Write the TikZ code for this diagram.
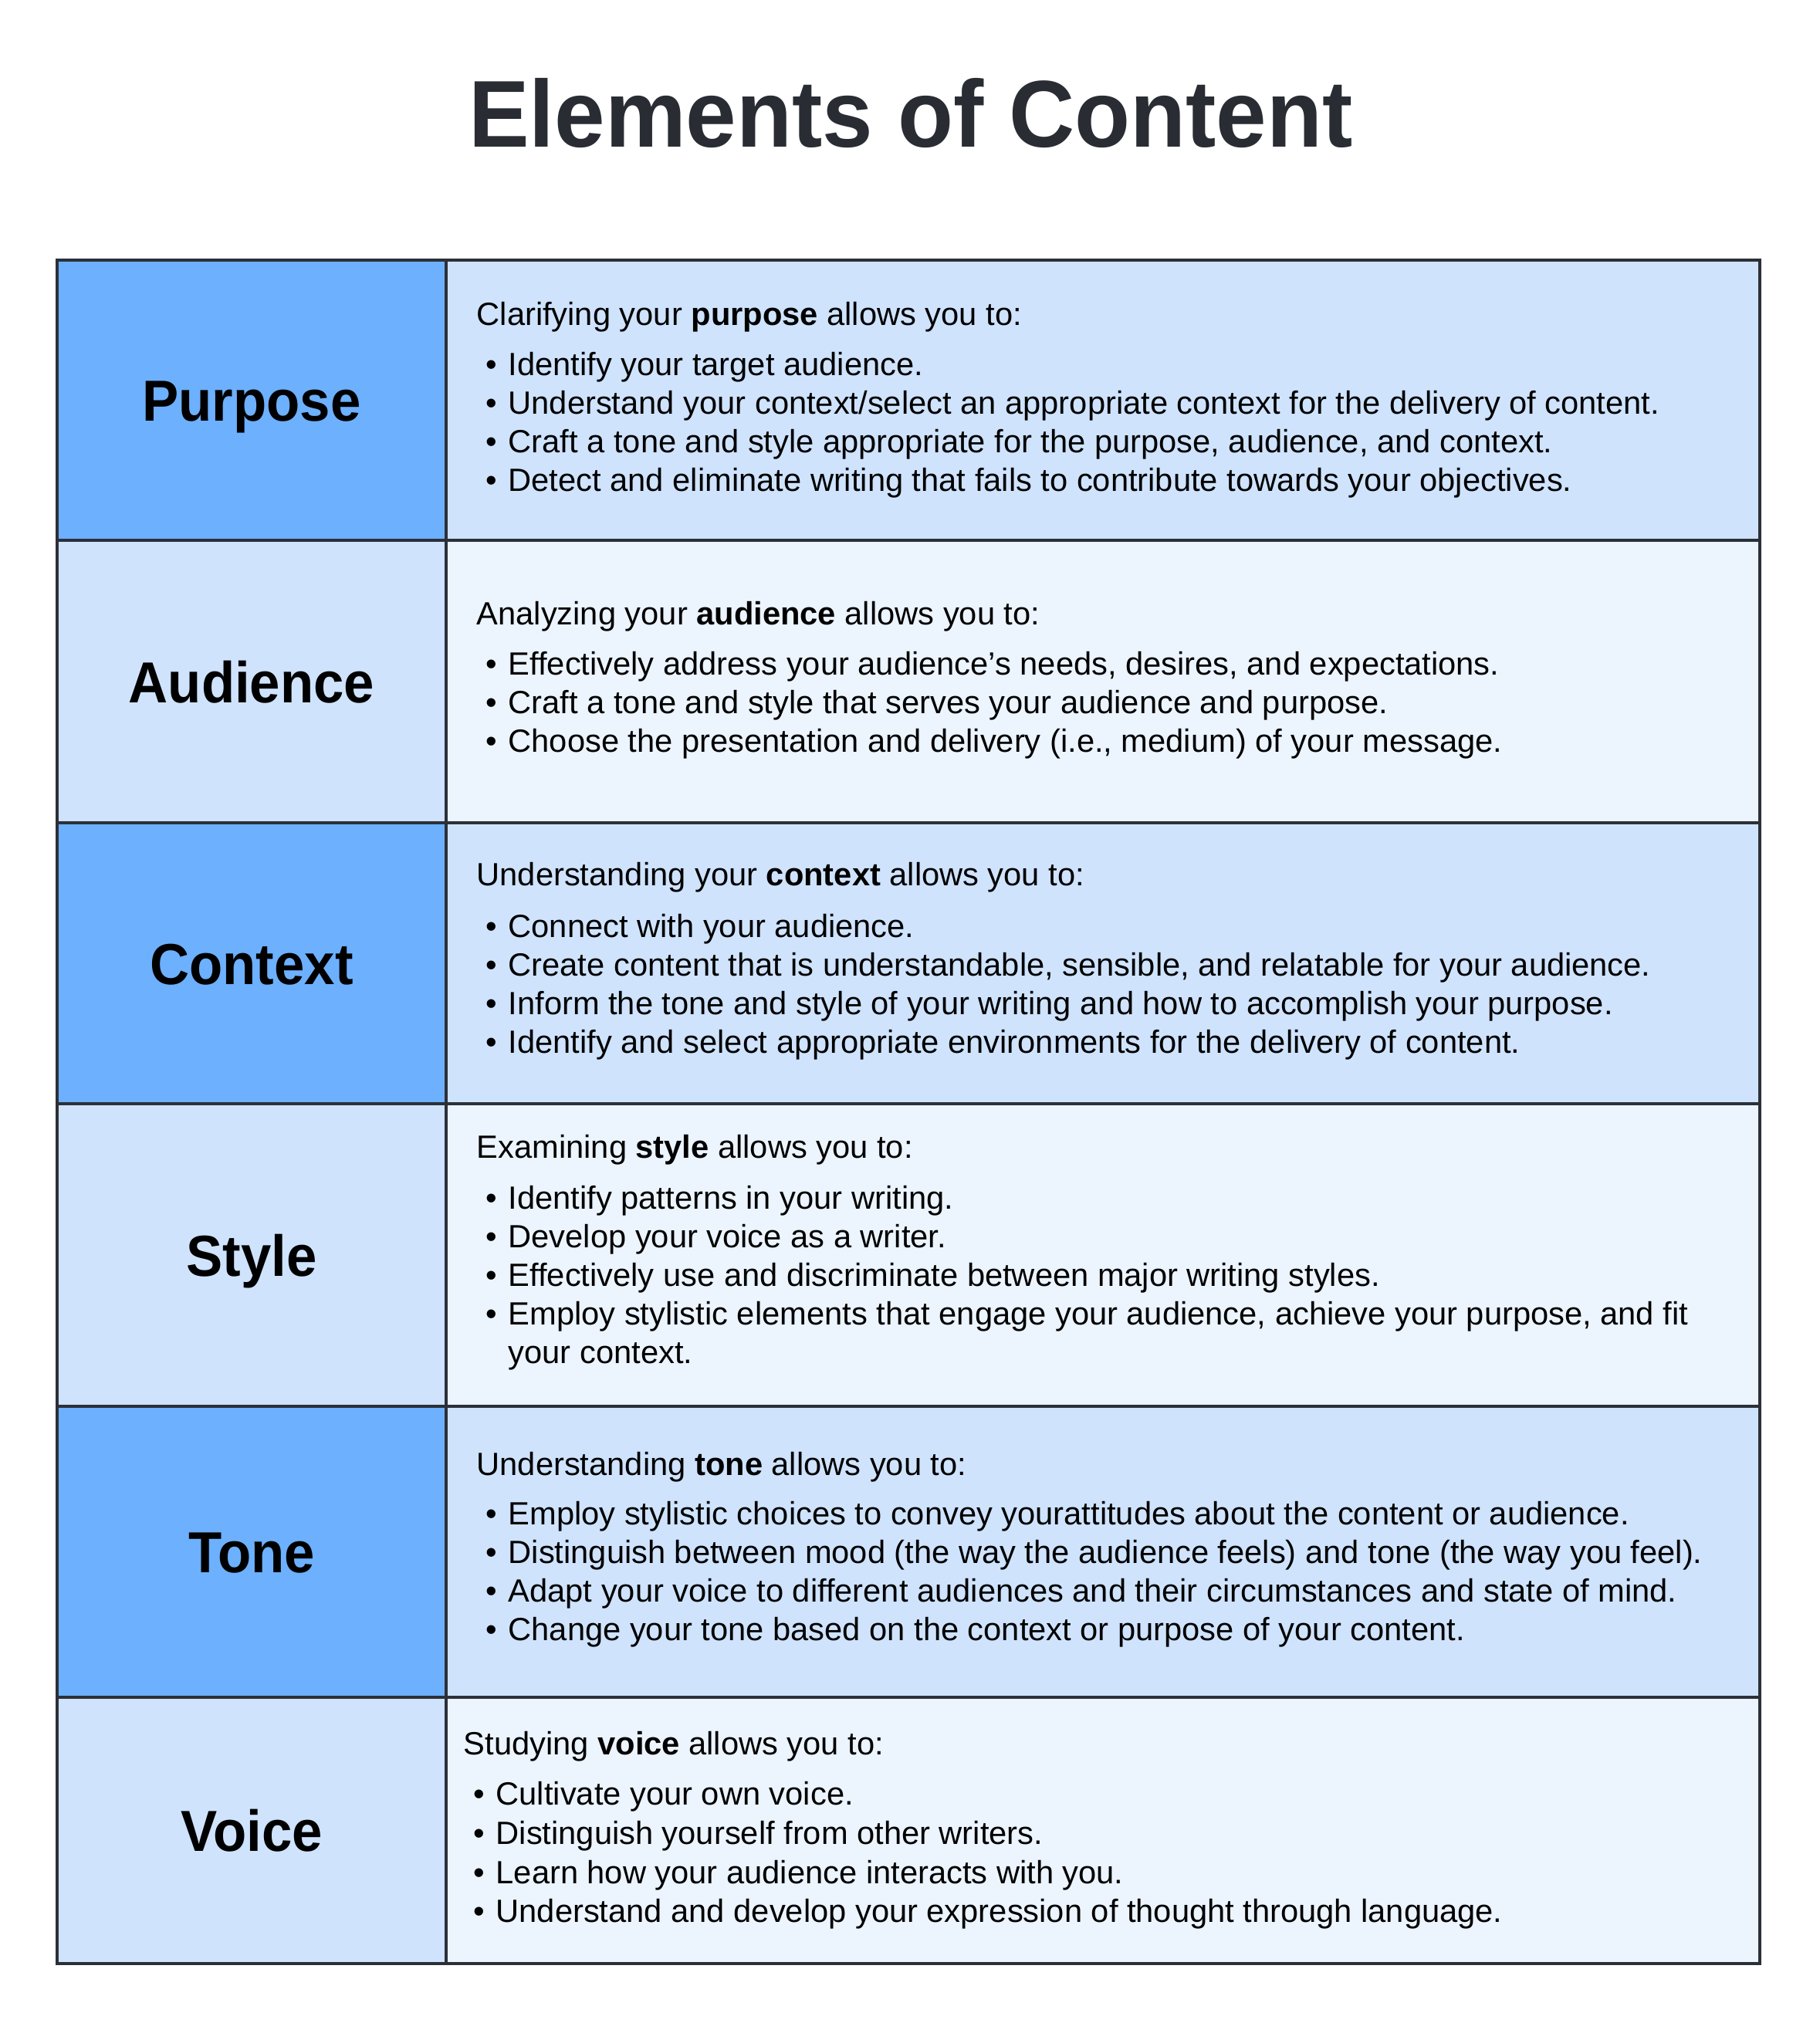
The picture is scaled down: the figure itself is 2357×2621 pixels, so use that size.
\documentclass[tikz,border=0pt]{standalone}
\usepackage{fontspec}
\setmainfont{Liberation Sans}
\newfontfamily\lblfont{Liberation Sans}[FakeStretch=0.943]
\newfontfamily\ttlfont{Liberation Sans}[FakeStretch=0.958]
\definecolor{cdark}{HTML}{6DB0FE}
\definecolor{cmid}{HTML}{CFE3FD}
\definecolor{clight}{HTML}{ECF4FE}
\definecolor{cline}{HTML}{2B3038}
\definecolor{ctitle}{HTML}{292D33}
\newcommand\bitem[4]{%
  \node[body] (#1b) at (#2-29,#3) {\textbullet};
  \node[body] (#1) at (#2,#3) {#4};}
\begin{document}
\begin{tikzpicture}[x=0.3pt,y=-0.3pt,
  body/.style={anchor=base west, inner sep=0pt, font=\fontsize{12.5pt}{15pt}\selectfont, text=black},
  lbl/.style={anchor=base, inner sep=0pt, font=\lblfont\bfseries\fontsize{22.5pt}{27pt}\selectfont, text=black},
  ttl/.style={anchor=base, inner sep=0pt, font=\ttlfont\bfseries\fontsize{36.9pt}{44pt}\selectfont, text=ctitle},
  border/.style={draw=cline, line width=1.2pt}]
\useasboundingbox[fill=white] (0,0) rectangle (2357,2621);
% title
\node[ttl] (title) at (1180,190) {Elements of Content};
% cell fills
\fill[cdark]  (74,337)  rectangle (578,700);
\fill[cmid]   (578,337) rectangle (2280,700);
\fill[cmid]   (74,700)  rectangle (578,1066);
\fill[clight] (578,700) rectangle (2280,1066);
\fill[cdark]  (74,1066)  rectangle (578,1430);
\fill[cmid]   (578,1066) rectangle (2280,1430);
\fill[cmid]   (74,1430)  rectangle (578,1822);
\fill[clight] (578,1430) rectangle (2280,1822);
\fill[cdark]  (74,1822)  rectangle (578,2199);
\fill[cmid]   (578,1822) rectangle (2280,2199);
\fill[cmid]   (74,2199)  rectangle (578,2544);
\fill[clight] (578,2199) rectangle (2280,2544);
% borders
\draw[border] (74,337) rectangle (2280,2544);
\draw[border] (578,337) -- (578,2544);
\foreach \yy in {700,1066,1430,1822,2199} \draw[border] (74,\yy) -- (2280,\yy);
% labels
\node[lbl] (lpurpose)  at (326,545.5)  {Purpose};
\node[lbl] (laudience) at (326,910)    {Audience};
\node[lbl] (lcontext)  at (326,1275)   {Context};
\node[lbl] (lstyle)    at (326,1653)   {Style};
\node[lbl] (ltone)     at (326,2037.5) {Tone};
\node[lbl] (lvoice)    at (326,2398.5) {Voice};
% Purpose
\node[body] (hpurpose) at (617,421) {Clarifying your \textbf{purpose} allows you to:};
\bitem{p1}{658}{486}{Identify your target audience.}
\bitem{p2}{658}{536}{Understand your context/select an appropriate context for the delivery of content.}
\bitem{p3}{658}{586}{Craft a tone and style appropriate for the purpose, audience, and context.}
\bitem{p4}{658}{636}{Detect and eliminate writing that fails to contribute towards your objectives.}
% Audience
\node[body] (haudience) at (617,809) {Analyzing your \textbf{audience} allows you to:};
\bitem{a1}{658}{874}{Effectively address your audience’s needs, desires, and expectations.}
\bitem{a2}{658}{924}{Craft a tone and style that serves your audience and purpose.}
\bitem{a3}{658}{974}{Choose the presentation and delivery (i.e., medium) of your message.}
% Context
\node[body] (hcontext) at (617,1147) {Understanding your \textbf{context} allows you to:};
\bitem{c1}{658}{1214}{Connect with your audience.}
\bitem{c2}{658}{1264}{Create content that is understandable, sensible, and relatable for your audience.}
\bitem{c3}{658}{1314}{Inform the tone and style of your writing and how to accomplish your purpose.}
\bitem{c4}{658}{1364}{Identify and select appropriate environments for the delivery of content.}
% Style
\node[body] (hstyle) at (617,1500) {Examining \textbf{style} allows you to:};
\bitem{s1}{658}{1566}{Identify patterns in your writing.}
\bitem{s2}{658}{1616}{Develop your voice as a writer.}
\bitem{s3}{658}{1666}{Effectively use and discriminate between major writing styles.}
\bitem{s4}{658}{1716}{Employ stylistic elements that engage your audience, achieve your purpose, and fit}
\node[body] (s4c) at (658,1766) {your context.};
% Tone
\node[body] (htone) at (617,1911) {Understanding \textbf{tone} allows you to:};
\bitem{t1}{658}{1975}{Employ stylistic choices to convey yourattitudes about the content or audience.}
\bitem{t2}{658}{2025}{Distinguish between mood (the way the audience feels) and tone (the way you feel).}
\bitem{t3}{658}{2075}{Adapt your voice to different audiences and their circumstances and state of mind.}
\bitem{t4}{658}{2125}{Change your tone based on the context or purpose of your content.}
% Voice
\node[body] (hvoice) at (600,2273) {Studying \textbf{voice} allows you to:};
\bitem{v1}{642}{2338}{Cultivate your own voice.}
\bitem{v2}{642}{2389}{Distinguish yourself from other writers.}
\bitem{v3}{642}{2440}{Learn how your audience interacts with you.}
\bitem{v4}{642}{2490}{Understand and develop your expression of thought through language.}
\end{tikzpicture}
\end{document}
